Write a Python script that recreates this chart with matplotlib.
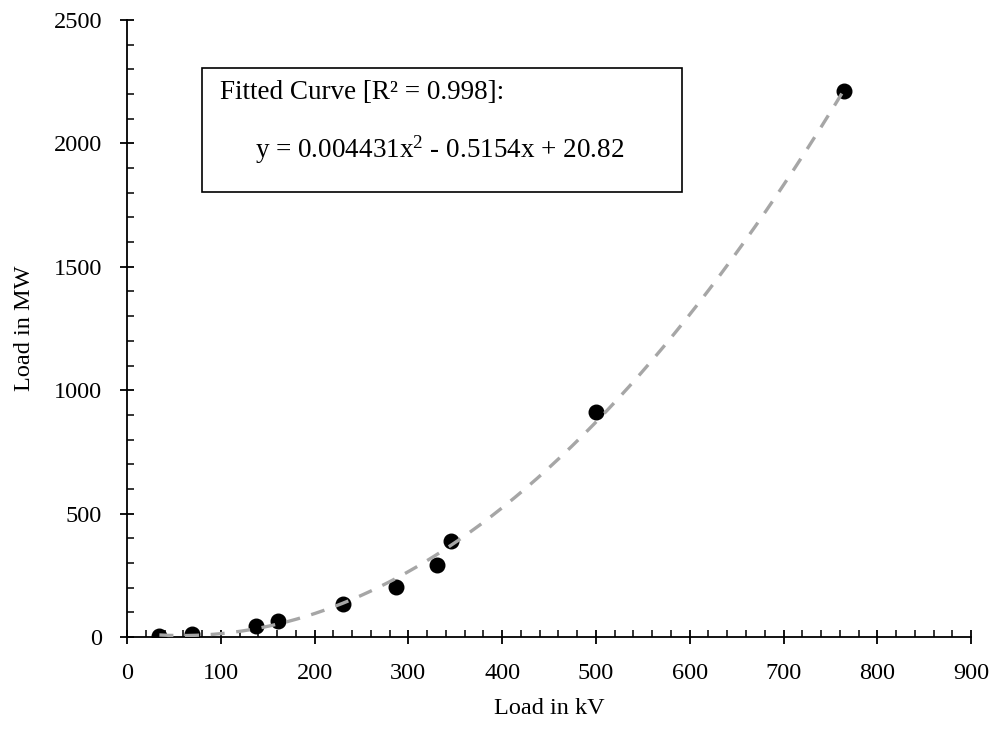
import numpy as np
import matplotlib
matplotlib.use('Agg')
import matplotlib.pyplot as plt
from matplotlib.ticker import MultipleLocator

plt.rcParams['font.family'] = ['Liberation Serif', 'DejaVu Serif']
plt.rcParams['mathtext.fontset'] = 'custom'
plt.rcParams['mathtext.rm'] = 'Liberation Serif'
plt.rcParams['mathtext.it'] = 'Liberation Serif'

# data
kv = [34.5, 69, 138, 161, 230, 287, 330, 345, 500, 765]
mw = [3, 12, 46, 65, 134, 204, 292, 389, 912, 2212]

# fitted curve coefficients (as printed on the chart)
fit_coef = [0.004431, -0.5154, 20.82]
fit_r2 = 0.998

fs = 17.5
fs_box = 19.5

fig = plt.figure(figsize=(9.97, 7.3), dpi=100)
ax = fig.add_axes([0.1274, 0.1274, 0.8466, 0.8452])

ax.scatter(kv, mw, s=110, color='black', zorder=2)
xf = np.linspace(min(kv), max(kv), 300)
ax.plot(xf, np.polyval(fit_coef, xf), color='#A6A6A6', lw=2.4,
        dashes=(4.2, 3.5), zorder=3)

ax.set_xlim(0, 900)
ax.set_ylim(0, 2500)
ax.xaxis.set_major_locator(MultipleLocator(100))
ax.xaxis.set_minor_locator(MultipleLocator(20))
ax.yaxis.set_major_locator(MultipleLocator(500))
ax.yaxis.set_minor_locator(MultipleLocator(100))
ax.tick_params(which='major', direction='inout', length=10, width=1.3,
               labelsize=fs)
ax.tick_params(axis='y', which='major', pad=13)
ax.tick_params(axis='x', which='major', pad=14)
ax.tick_params(which='minor', direction='in', length=5, width=1.1)
for s in ['top', 'right']:
    ax.spines[s].set_visible(False)
for s in ['left', 'bottom']:
    ax.spines[s].set_linewidth(1.3)

ax.set_xlabel('Load in kV', fontsize=fs, labelpad=10)
ax.set_ylabel('Load in MW', fontsize=fs, labelpad=13)

# text box
box = plt.Rectangle((0.089, 0.721), 0.569, 0.201, transform=ax.transAxes,
                    fill=False, edgecolor='black', lw=1.2, zorder=4)
ax.add_patch(box)
ax.text(0.110, 0.883, 'Fitted Curve [R² = %.3f]:' % fit_r2,
        transform=ax.transAxes, fontsize=fs_box, va='center', ha='left')
eq = 'y = %.6fx$^{2}$ - %.4fx + %.2f' % (fit_coef[0], -fit_coef[1], fit_coef[2])
ax.text(0.370, 0.789, eq, transform=ax.transAxes, fontsize=fs_box,
        va='center', ha='center')

fig.savefig('out.png', dpi=100)
